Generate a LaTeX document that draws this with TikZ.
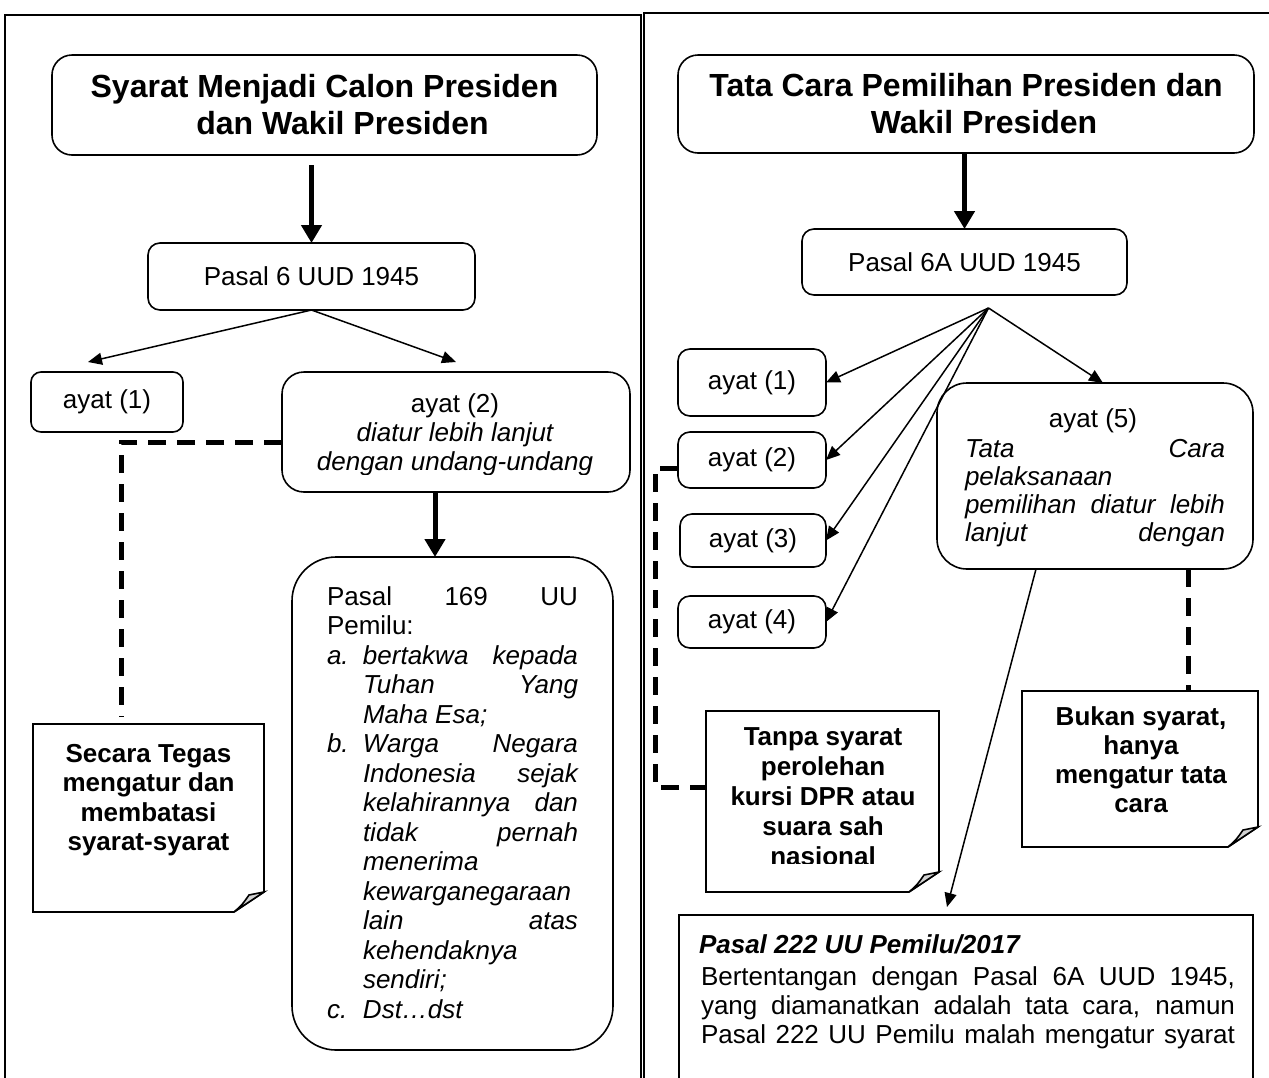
\documentclass[tikz,border=0pt]{standalone}
\usepackage{fontspec}
\setmainfont{Liberation Sans}
\usetikzlibrary{arrows.meta,calc}
\newcommand\bodyfont{\fontsize{13pt}{15pt}\selectfont}
\newcommand\ttlfont{\fontsize{16pt}{18.5pt}\selectfont\bfseries}
\newcommand\notefont{\fontsize{13pt}{15pt}\selectfont\bfseries}
\newcommand\jline[2]{\makebox[#1][s]{#2}}
\newcommand\mycl[2]{\hbox to #1{\hfil #2\hfil}}
\tikzset{
  box/.style={draw, line width=0.8pt, rounded corners=6pt, inner sep=0pt, outer sep=0pt, fill=white},
  plain/.style={draw, line width=0.8pt, inner sep=0pt, outer sep=0pt, fill=white},
  notebody/.style={inner sep=0pt, outer sep=0pt},
  noteline/.style={line width=0.8pt, line join=miter},
  frame/.style={line width=0.75pt},
  bigarrow/.style={line width=2.5pt, -{Triangle[length=9pt,width=10pt]}},
  thinarrow/.style={line width=0.75pt, -{Triangle[length=7pt,width=6pt]}},
  dashline/.style={line width=2.5pt, dash pattern=on 9pt off 5.5pt},
  txt/.style={inner sep=0pt, outer sep=0pt},
}
\newcommand\notefold[1]{%
  \filldraw[noteline, fill=white] (#1.north west) -- (#1.north east) -- ([yshift=10pt]#1.south east)
     -- ([xshift=-15pt]#1.south east) -- (#1.south west) -- cycle;
  \filldraw[noteline, fill=gray!35] ([xshift=-15pt]#1.south east)
     .. controls ([xshift=-11pt,yshift=3.5pt]#1.south east) .. ([xshift=-7.5pt,yshift=8.5pt]#1.south east)
     -- ([yshift=10pt]#1.south east) -- cycle;}
\begin{document}
\begin{tikzpicture}[x=0.5pt,y=-0.5pt]
\clip (0,0) rectangle (1269,1077);
\fill[white] (0,0) rectangle (1269,1077);
% panels
\draw[frame] (5,15) rectangle (641,1100);
\draw[frame] (644,13) rectangle (1290,1100);

% ================= LEFT PANEL =================
\node[box, rounded corners=10pt, minimum width=272.5pt, minimum height=50pt, font=\ttlfont, align=center] (T1) at (324.5,105)
  {Syarat Menjadi Calon Presiden\\\hspace*{18pt}dan Wakil Presiden};
\node[box, minimum width=163.5pt, minimum height=33.5pt, font=\bodyfont] (P6) at (311.5,276.5) {Pasal 6 UUD 1945};
\node[box, rounded corners=5pt, minimum width=76pt, minimum height=30pt, font=\bodyfont] (A1) at (107,402) {ayat (1)};
\node[box, rounded corners=11pt, minimum width=174pt, minimum height=60pt] (A2) at (456,432) {};
\node[txt, font=\bodyfont, anchor=base] (A2a) at (455,412) {ayat (2)};
\begin{scope}
  \clip (284,380) rectangle (628,474);
  \node[txt, font=\bodyfont\itshape, anchor=base] (A2b) at (455,441) {diatur lebih lanjut};
  \node[txt, font=\bodyfont\itshape, anchor=base] (A2c) at (455,470) {dengan undang-undang};
\end{scope}
\node[box, rounded corners=22pt, minimum width=160.5pt, minimum height=246.5pt] (P169) at (452.5,803.5) {};
\node[txt, anchor=base west, font=\bodyfont] (P169t) at (327,605) {\vtop{\baselineskip=14.75pt\lineskiplimit=-20pt
  \hbox{\jline{125.5pt}{Pasal 169 UU}}
  \hbox{Pemilu:}
  \hbox{\itshape\hbox to 18pt{a.\hfil}\jline{107.5pt}{bertakwa kepada}}
  \hbox{\itshape\hskip18pt\jline{107.5pt}{Tuhan Yang}}
  \hbox{\itshape\hskip18pt Maha Esa;}
  \hbox{\itshape\hbox to 18pt{b.\hfil}\jline{107.5pt}{Warga Negara}}
  \hbox{\itshape\hskip18pt\jline{107.5pt}{Indonesia sejak}}
  \hbox{\itshape\hskip18pt\jline{107.5pt}{kelahirannya dan}}
  \hbox{\itshape\hskip18pt\jline{107.5pt}{tidak pernah}}
  \hbox{\itshape\hskip18pt menerima}
  \hbox{\itshape\hskip18pt kewarganegaraan}
  \hbox{\itshape\hskip18pt\jline{107.5pt}{lain atas}}
  \hbox{\itshape\hskip18pt kehendaknya}
  \hbox{\itshape\hskip18pt sendiri;}
  \hbox{\itshape\hbox to 18pt{c.\hfil}Dst…dst}}};
\node[notebody, minimum width=115.5pt, minimum height=94pt] (N1) at (148.5,818) {};
\notefold{N1}
\node[txt, anchor=base, font=\notefont] (N1t) at (148.5,762) {\vtop{\baselineskip=14.75pt\lineskiplimit=-20pt
  \mycl{112pt}{Secara Tegas}\mycl{112pt}{mengatur dan}\mycl{112pt}{membatasi}\mycl{112pt}{syarat-syarat}}};

% left connectors
\draw[bigarrow, shorten <=5pt] (T1.south -| P6.north) -- (P6.north);
\draw[thinarrow] (P6.south) -- ([xshift=-9.5pt,yshift=5pt]A1.north);
\draw[thinarrow] (P6.south) -- ([yshift=5pt]A2.north);
\coordinate (k1) at ([xshift=-10.5pt]A2.south);
\draw[bigarrow] (k1) -- (k1 |- P169.north);
\coordinate (d1) at ([yshift=-5pt]A2.west);
\coordinate (d2) at ([xshift=-13.75pt,yshift=3.5pt]N1.north);
\draw[dashline] (d1) -| (d2);

% ================= RIGHT PANEL =================
\node[box, rounded corners=10pt, minimum width=288pt, minimum height=49pt, font=\ttlfont, align=center] (T2) at (966,104)
  {Tata Cara Pemilihan Presiden dan\\\hspace*{18pt}Wakil Presiden};
\node[box, minimum width=162.5pt, minimum height=33pt, font=\bodyfont] (P6A) at (964.5,262) {Pasal 6A UUD 1945};
\node[box, minimum width=74pt, minimum height=33.5pt, font=\bodyfont] (R1) at (752,382.5) {ayat (1)};
\node[box, minimum width=74pt, minimum height=28pt, font=\bodyfont] (R2) at (752,460) {ayat (2)};
\node[box, minimum width=73pt, minimum height=26.5pt, font=\bodyfont] (R3) at (753,540.5) {ayat (3)};
\node[box, minimum width=74pt, minimum height=26pt, font=\bodyfont] (R4) at (752,622) {ayat (4)};
\node[box, rounded corners=15pt, minimum width=158pt, minimum height=93pt] (R5) at (1095,476) {};
\node[txt, font=\bodyfont, anchor=base] (R5a) at (1093,427) {ayat (5)};
\begin{scope}
  \clip (940,390) rectangle (1250,549);
  \node[txt, anchor=base west, font=\bodyfont\itshape] (R5b) at (965,457) {\vtop{\baselineskip=14pt\lineskiplimit=-20pt
    \hbox{\jline{130pt}{Tata Cara}}
    \hbox{pelaksanaan}
    \hbox{\jline{130pt}{pemilihan diatur lebih}}
    \hbox{\jline{130pt}{lanjut dengan}}}};
\end{scope}

\node[notebody, minimum width=116.5pt, minimum height=90.5pt] (N2) at (822.5,801.5) {};
\notefold{N2}
\begin{scope}
  \clip (708,715) rectangle (936,863);
  \node[txt, anchor=base, font=\notefont] (N2t) at (823,745) {\vtop{\baselineskip=15pt\lineskiplimit=-20pt
    \mycl{112pt}{Tanpa syarat}\mycl{112pt}{perolehan}\mycl{112pt}{kursi DPR atau}\mycl{112pt}{suara sah}\mycl{112pt}{nasional}}};
\end{scope}

\node[notebody, minimum width=118pt, minimum height=78pt] (N3) at (1140,769) {};
\notefold{N3}
\node[txt, anchor=base, font=\notefont] (N3t) at (1141,725) {\vtop{\baselineskip=14.5pt\lineskiplimit=-20pt
  \mycl{112pt}{Bukan syarat,}\mycl{112pt}{hanya}\mycl{112pt}{mengatur tata}\mycl{112pt}{cara}}};

\node[plain, minimum width=287pt, minimum height=95pt] (P222) at (966,1010) {};
\node[txt, anchor=base west, font=\bodyfont\bfseries\itshape] (P222h) at (699,953) {Pasal 222 UU Pemilu/2017};
\node[txt, anchor=base west, font=\bodyfont] (P222t) at (701,985) {\vtop{\baselineskip=14.5pt\lineskiplimit=-20pt
  \hbox{\jline{267pt}{Bertentangan dengan Pasal 6A UUD 1945,}}
  \hbox{\jline{267pt}{yang diamanatkan adalah tata cara, namun}}
  \hbox{\jline{267pt}{Pasal 222 UU Pemilu malah mengatur syarat}}}};

% right connectors
\draw[bigarrow] (T2.south -| P6A.north) -- (P6A.north);
\coordinate (F) at ([xshift=12pt,yshift=-6.5pt]P6A.south);
\draw[thinarrow] (F) -- (R1.east);
\draw[thinarrow] (F) -- (R2.east);
\draw[thinarrow] (F) -- (R3.east);
\draw[thinarrow] (F) -- (R4.east);
\draw[thinarrow] (F) -- ([xshift=4pt]R5.north);
\draw[thinarrow] ([xshift=-29.5pt]R5.south) -- ([xshift=-9.5pt,yshift=4pt]P222.north);
\coordinate (d3) at ([yshift=-4pt]R2.west);
\coordinate (d4) at ([xshift=-25.5pt,yshift=7.25pt]N2.west);
\coordinate (d5) at ([yshift=7.25pt]N2.west);
\draw[dashline] (d3) -| (d4) -- (d5);
\coordinate (d6) at ([xshift=46.5pt]R5.south);
\draw[dashline] (d6) -- (d6 |- N3.north);
\end{tikzpicture}
\end{document}
